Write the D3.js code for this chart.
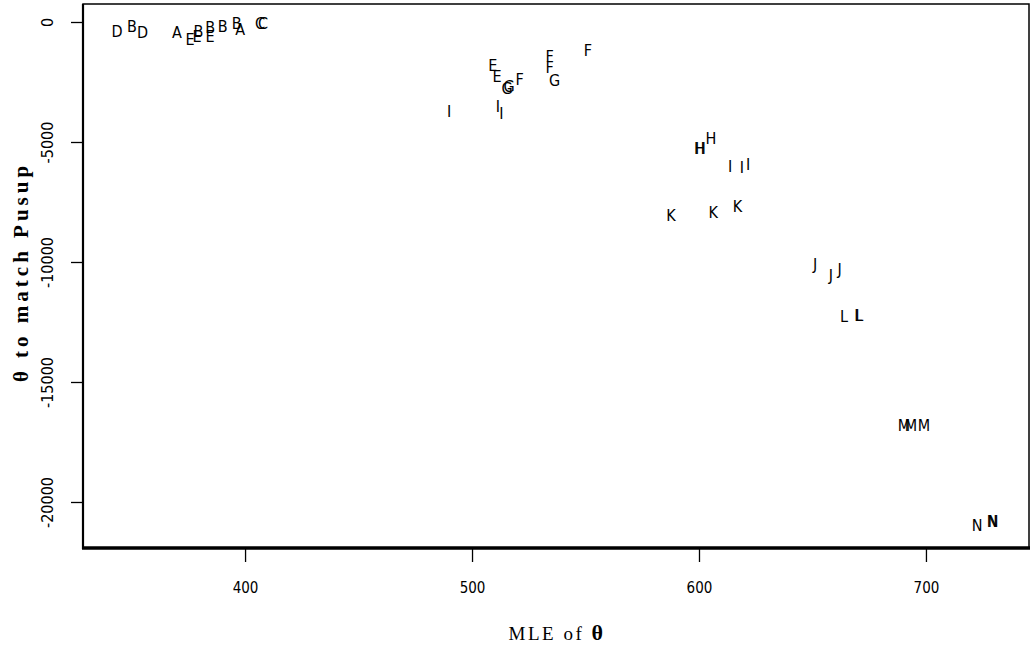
<!DOCTYPE html>
<html><head><meta charset="utf-8">
<script src="https://cdn.jsdelivr.net/npm/d3@7"></script>
<style>
body{margin:0;background:#fff;}
svg{display:block;}
</style></head>
<body>
<svg id="chart" width="1031" height="651"></svg>
<script>
const labels = ["D","B","D","A","E","B","E","B","E","B","B","A","C","C",
  "E","E","G","G","F","F","F","G","F","I","I","I",
  "H","H","H","I","I","I","K","K","K",
  "J","J","J","L","L","L","M","M","M","N","N","N"];
const xVals = [343.6,350.2,354.8,370.0,375.8,379.5,378.9,384.6,384.6,390.2,396.3,397.8,406.6,407.9,
  509.2,511.0,515.4,516.3,521.0,534.2,534.2,536.4,551.0,489.9,511.4,512.9,
  600.2,600.6,605.3,613.7,618.9,621.7,587.7,606.3,617.0,
  651.2,658.1,662.0,663.9,670.2,670.6,690.3,693.4,699.1,722.6,729.2,729.6];
const yVals = [-404,-167,-429,-446,-721,-404,-625,-250,-625,-167,-83,-333,-42,-42,
  -1833,-2279,-2763,-2696,-2388,-1446,-1888,-2417,-1167,-3738,-3529,-3804,
  -5263,-5263,-4846,-6029,-6071,-5958,-8042,-7946,-7696,
  -10125,-10542,-10304,-12279,-12250,-12250,-16792,-16792,-16792,-21000,-20821,-20821];
const xTicks = [400,500,600,700];
const yTicks = [0,-5000,-10000,-15000,-20000];

const svg = d3.select("#chart");
const L = 83, R = 1029, T = 4, B = 548;
const x = d3.scaleLinear().domain([328.6,745.4]).range([L,R]);
const y = d3.scaleLinear().domain([750,-21917]).range([T,B]);

// frame
svg.append("rect").attr("x",L).attr("y",T).attr("width",R-L).attr("height",B-T)
  .attr("fill","none").attr("stroke","#000").attr("stroke-width",1.5);
svg.append("line").attr("x1",L).attr("x2",L).attr("y1",T).attr("y2",B+1)
  .attr("stroke","#000").attr("stroke-width",2.2);
svg.append("line").attr("x1",L-1).attr("x2",R+1).attr("y1",B).attr("y2",B)
  .attr("stroke","#000").attr("stroke-width",3.5);

const narrow = "'DejaVu Sans Condensed','Liberation Sans Narrow',sans-serif";
const fmt = d => String(d);

// x axis
const xa = svg.append("g").attr("transform",`translate(0,${B})`)
  .call(d3.axisBottom(x).tickValues(xTicks).tickSize(14).tickPadding(20).tickFormat(fmt));
xa.select(".domain").remove();
xa.selectAll("line").attr("stroke","#000").attr("stroke-width",1.3);
xa.selectAll("text").attr("font-family",narrow).attr("font-stretch","condensed")
  .attr("font-size",15).attr("fill","#000");

// y axis
const ya = svg.append("g").attr("transform",`translate(${L},0)`)
  .call(d3.axisLeft(y).tickValues(yTicks).tickSize(12).tickFormat(fmt));
ya.select(".domain").remove();
ya.selectAll("line").attr("stroke","#000").attr("stroke-width",1.3);
ya.selectAll("text").attr("font-family",narrow).attr("font-stretch","condensed")
  .attr("font-size",16).attr("fill","#000")
  .attr("text-anchor","middle").attr("x",null).attr("dy",null)
  .attr("transform","translate(-30,0) rotate(-90)");

// points as letters
svg.append("g").selectAll("text").data(labels).join("text")
  .attr("x",(d,i)=>x(xVals[i])).attr("y",(d,i)=>y(yVals[i]))
  .attr("text-anchor","middle").attr("dominant-baseline","central")
  .attr("font-family",narrow).attr("font-stretch","condensed")
  .attr("font-size",16).attr("fill","#000").text(d=>d);

// axis titles
const xt = svg.append("text").attr("x",557).attr("y",640).attr("text-anchor","middle")
  .attr("font-family","'Liberation Serif','DejaVu Serif',serif").attr("font-size",19)
  .attr("letter-spacing",2.5).attr("fill","#000");
xt.append("tspan").text("MLE of ");
xt.append("tspan").attr("font-weight","bold").attr("font-size",22).text("θ");

const yt = svg.append("text").attr("transform",`translate(28,272) rotate(-90)`).attr("text-anchor","middle")
  .attr("font-family","'Liberation Serif','DejaVu Serif',serif").attr("font-size",21)
  .attr("letter-spacing",4).attr("font-weight","bold").attr("fill","#000");
yt.append("tspan").text("θ  to match Pusup");
</script>
</body></html>
